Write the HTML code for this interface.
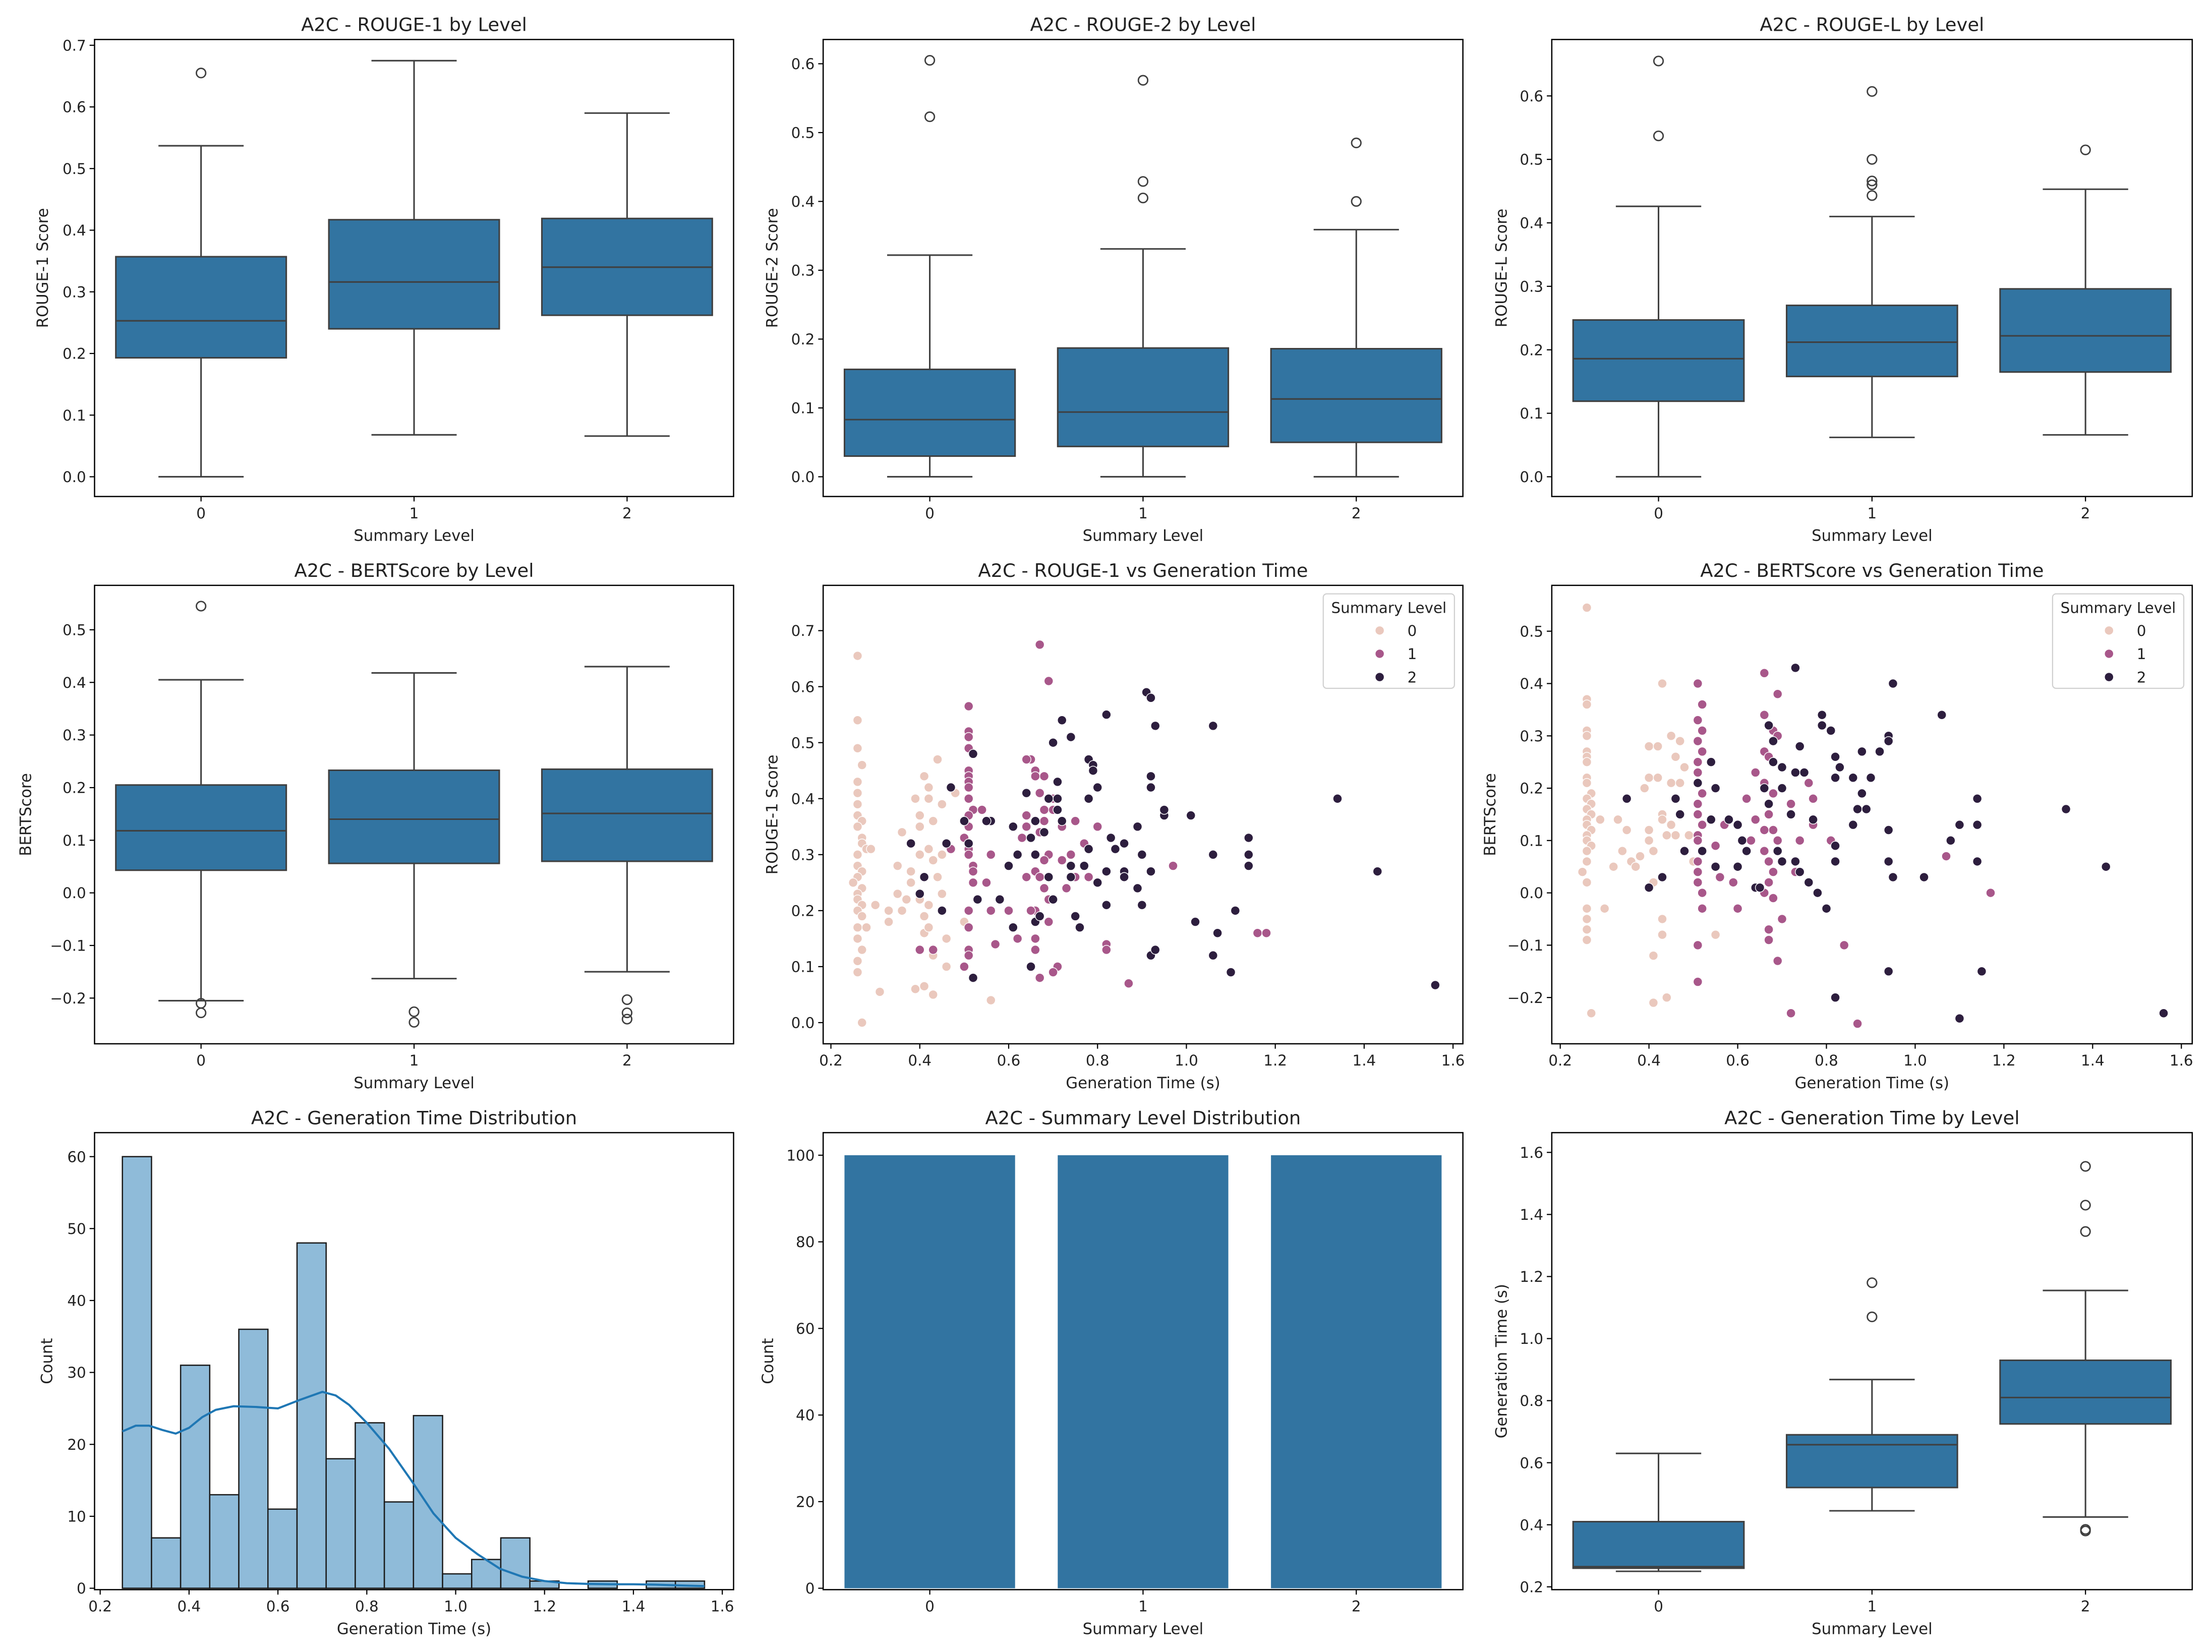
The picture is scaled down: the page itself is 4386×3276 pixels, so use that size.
<!DOCTYPE html>
<html>
<head>
<meta charset="utf-8">
<style>
html,body{margin:0;padding:0;background:#fff;}
svg{display:block;}
text{font-family:"DejaVu Sans","Liberation Sans",sans-serif;fill:#222;}
</style>
</head>
<body>
<svg id="fig" xmlns="http://www.w3.org/2000/svg" width="4386" height="3276" viewBox="0 0 1568 1171.2"></svg>
<script>
// ---------- DATA ----------
const levels = ["0","1","2"];
// box stats: [lowWhisker, q1, median, q3, highWhisker]
const rouge1Box = [[0,0.193,0.253,0.357,0.537],[0.068,0.24,0.316,0.417,0.675],[0.066,0.262,0.34,0.419,0.59]];
const rouge1Out = [[0.655],[],[]];
const rouge2Box = [[0,0.03,0.083,0.156,0.322],[0,0.044,0.094,0.187,0.331],[0,0.05,0.113,0.186,0.359]];
const rouge2Out = [[0.523,0.605],[0.405,0.429,0.576],[0.4,0.485]];
const rougeLBox = [[0,0.119,0.186,0.247,0.426],[0.062,0.158,0.212,0.27,0.41],[0.066,0.165,0.222,0.296,0.453]];
const rougeLOut = [[0.537,0.655],[0.443,0.46,0.466,0.5,0.607],[0.515]];
const bertBox = [[-0.205,0.043,0.118,0.205,0.405],[-0.163,0.056,0.14,0.233,0.418],[-0.15,0.06,0.151,0.235,0.43]];
const bertOut = [[0.545,-0.21,-0.228],[-0.226,-0.246],[-0.203,-0.228,-0.24]];
const timeBox = [[0.25,0.26,0.265,0.41,0.63],[0.445,0.52,0.658,0.69,0.868],[0.425,0.725,0.81,0.93,1.155]];
const timeOut = [[],[1.07,1.18],[0.38,0.385,1.345,1.43,1.555]];

const r1Level0 = [[0.26,0.655],[0.26,0.54],[0.26,0.49],[0.27,0.46],[0.26,0.43],[0.26,0.41],[0.26,0.39],[0.26,0.37],[0.27,0.36],[0.26,0.35],[0.27,0.33],[0.27,0.32],[0.28,0.31],[0.26,0.30],[0.26,0.28],[0.27,0.27],[0.26,0.26],[0.27,0.24],[0.26,0.23],[0.26,0.22],[0.27,0.21],[0.26,0.20],[0.27,0.19],[0.26,0.17],[0.26,0.15],[0.27,0.13],[0.26,0.11],[0.26,0.09],[0.27,0.00],[0.29,0.31],[0.25,0.25],[0.28,0.17],[0.30,0.21],[0.31,0.055],[0.33,0.20],[0.35,0.28],[0.35,0.23],[0.36,0.34],[0.37,0.22],[0.38,0.25],[0.38,0.27],[0.39,0.40],[0.40,0.37],[0.40,0.35],[0.40,0.30],[0.40,0.22],[0.41,0.44],[0.41,0.19],[0.41,0.16],[0.41,0.065],[0.42,0.42],[0.42,0.40],[0.42,0.31],[0.42,0.21],[0.42,0.17],[0.43,0.05],[0.44,0.47],[0.43,0.29],[0.43,0.36],[0.43,0.12],[0.44,0.26],[0.45,0.39],[0.45,0.30],[0.46,0.15],[0.46,0.10],[0.45,0.23],[0.48,0.41],[0.50,0.18],[0.56,0.04],[0.39,0.06],[0.36,0.20],[0.33,0.18]];
const r1Level1 = [[0.67,0.675],[0.69,0.61],[0.51,0.565],[0.51,0.52],[0.51,0.51],[0.51,0.49],[0.51,0.45],[0.51,0.44],[0.51,0.43],[0.51,0.42],[0.51,0.40],[0.52,0.38],[0.51,0.37],[0.51,0.35],[0.50,0.33],[0.51,0.31],[0.51,0.30],[0.52,0.28],[0.52,0.27],[0.52,0.25],[0.51,0.20],[0.51,0.17],[0.51,0.13],[0.51,0.12],[0.50,0.10],[0.54,0.38],[0.56,0.30],[0.56,0.20],[0.55,0.25],[0.47,0.31],[0.43,0.13],[0.40,0.13],[0.65,0.47],[0.66,0.45],[0.67,0.41],[0.64,0.47],[0.66,0.44],[0.68,0.38],[0.68,0.36],[0.67,0.34],[0.69,0.30],[0.68,0.29],[0.66,0.27],[0.67,0.26],[0.68,0.24],[0.69,0.22],[0.66,0.20],[0.69,0.18],[0.66,0.15],[0.66,0.13],[0.71,0.10],[0.70,0.09],[0.67,0.08],[0.64,0.37],[0.64,0.35],[0.63,0.33],[0.62,0.30],[0.64,0.26],[0.68,0.44],[0.70,0.40],[0.72,0.29],[0.74,0.26],[0.75,0.26],[0.78,0.26],[0.80,0.35],[0.82,0.14],[0.82,0.13],[0.87,0.07],[0.74,0.30],[0.72,0.35],[0.77,0.32],[1.16,0.16],[1.18,0.16],[0.97,0.28],[0.60,0.20],[0.57,0.14],[0.62,0.15],[0.65,0.20],[0.73,0.24],[0.75,0.36],[0.70,0.38]];
const r1Level2 = [[0.72,0.54],[0.74,0.51],[0.70,0.50],[0.78,0.47],[0.82,0.55],[0.91,0.59],[0.92,0.58],[0.93,0.53],[0.79,0.46],[0.79,0.45],[0.80,0.42],[0.78,0.40],[0.92,0.44],[0.92,0.42],[0.95,0.37],[0.95,0.38],[0.71,0.38],[0.71,0.40],[0.72,0.36],[0.66,0.36],[0.61,0.35],[0.56,0.36],[0.50,0.36],[0.52,0.48],[0.47,0.42],[0.46,0.32],[0.51,0.32],[0.53,0.22],[0.62,0.30],[0.60,0.28],[0.64,0.41],[0.68,0.34],[0.65,0.33],[0.66,0.30],[0.69,0.40],[0.71,0.43],[0.74,0.28],[0.77,0.28],[0.78,0.31],[0.83,0.33],[0.84,0.31],[0.86,0.32],[0.89,0.35],[0.86,0.27],[0.86,0.26],[0.89,0.24],[0.90,0.30],[0.92,0.27],[0.90,0.21],[0.70,0.22],[0.75,0.19],[0.58,0.22],[0.45,0.20],[0.40,0.23],[0.38,0.32],[0.41,0.26],[0.76,0.17],[0.66,0.18],[0.67,0.19],[0.92,0.12],[0.93,0.13],[1.02,0.18],[1.06,0.12],[1.10,0.09],[1.14,0.28],[1.14,0.30],[1.14,0.33],[1.06,0.30],[1.01,0.37],[1.11,0.20],[1.07,0.16],[0.80,0.25],[0.82,0.27],[0.74,0.26],[0.61,0.17],[0.69,0.26],[0.52,0.08],[0.65,0.10],[0.82,0.21],[0.55,0.36],[1.34,0.40],[1.43,0.27],[1.56,0.067],[1.06,0.53]];

const bsLevel0 = [[0.26,0.545],[0.26,0.37],[0.26,0.36],[0.26,0.31],[0.26,0.30],[0.26,0.27],[0.26,0.26],[0.26,0.25],[0.26,0.22],[0.26,0.21],[0.27,0.19],[0.26,0.18],[0.27,0.17],[0.26,0.16],[0.27,0.15],[0.26,0.14],[0.26,0.13],[0.27,0.12],[0.26,0.11],[0.26,0.10],[0.27,0.09],[0.26,0.08],[0.26,0.06],[0.25,0.04],[0.26,0.02],[0.26,-0.03],[0.26,-0.05],[0.26,-0.07],[0.26,-0.09],[0.27,-0.23],[0.29,0.14],[0.30,-0.03],[0.32,0.05],[0.35,0.12],[0.36,0.06],[0.37,0.05],[0.39,0.20],[0.40,0.22],[0.40,0.28],[0.40,0.10],[0.40,0.12],[0.41,0.08],[0.41,0.02],[0.41,-0.12],[0.41,-0.21],[0.42,0.28],[0.42,0.22],[0.43,0.40],[0.43,0.15],[0.43,0.14],[0.43,-0.05],[0.43,-0.08],[0.44,-0.20],[0.45,0.30],[0.45,0.21],[0.45,0.13],[0.46,0.26],[0.46,0.11],[0.47,0.29],[0.47,0.21],[0.48,0.24],[0.49,0.11],[0.50,0.06],[0.55,-0.08],[0.38,0.07],[0.44,0.11],[0.34,0.08],[0.33,0.14]];
const bsLevel1 = [[0.51,0.40],[0.52,0.36],[0.51,0.33],[0.52,0.31],[0.51,0.29],[0.52,0.27],[0.51,0.25],[0.51,0.23],[0.51,0.21],[0.52,0.19],[0.51,0.17],[0.51,0.15],[0.52,0.13],[0.51,0.11],[0.51,0.10],[0.52,0.08],[0.51,0.06],[0.51,0.04],[0.51,0.02],[0.52,0.00],[0.52,-0.03],[0.51,-0.10],[0.51,-0.17],[0.66,0.42],[0.69,0.38],[0.66,0.34],[0.67,0.32],[0.68,0.31],[0.69,0.30],[0.66,0.27],[0.67,0.26],[0.68,0.25],[0.64,0.23],[0.66,0.21],[0.68,0.19],[0.67,0.15],[0.68,0.12],[0.69,0.10],[0.66,0.08],[0.67,0.06],[0.68,0.04],[0.67,0.02],[0.66,0.00],[0.68,-0.01],[0.70,-0.05],[0.67,-0.07],[0.67,-0.09],[0.69,-0.13],[0.62,0.18],[0.63,0.10],[0.60,0.05],[0.59,0.02],[0.56,0.03],[0.57,0.13],[0.55,0.09],[0.64,0.14],[0.66,0.12],[0.72,0.17],[0.76,0.21],[0.77,0.18],[0.77,0.13],[0.81,0.10],[0.84,-0.10],[0.72,-0.23],[0.87,-0.25],[0.73,0.04],[1.07,0.07],[1.17,0.00],[0.60,-0.03],[0.74,0.10]];
const bsLevel2 = [[0.73,0.43],[0.95,0.40],[0.79,0.34],[1.06,0.34],[0.79,0.32],[0.81,0.31],[0.67,0.32],[0.68,0.29],[0.74,0.28],[0.82,0.26],[0.88,0.27],[0.92,0.27],[0.94,0.30],[0.94,0.29],[0.83,0.24],[0.82,0.22],[0.68,0.25],[0.70,0.24],[0.73,0.23],[0.75,0.23],[0.66,0.20],[0.70,0.20],[0.54,0.25],[0.55,0.20],[0.54,0.14],[0.46,0.18],[0.47,0.15],[0.51,0.21],[0.58,0.14],[0.60,0.13],[0.61,0.10],[0.48,0.08],[0.52,0.08],[0.60,0.05],[0.64,0.01],[0.65,0.01],[0.73,0.06],[0.74,0.04],[0.76,0.02],[0.78,0.00],[0.80,-0.03],[0.82,0.09],[0.86,0.13],[0.87,0.16],[0.89,0.16],[0.94,0.12],[0.94,0.06],[0.95,0.03],[1.02,0.03],[1.08,0.10],[1.10,0.13],[1.14,0.18],[1.14,0.13],[1.14,0.06],[1.34,0.16],[1.43,0.05],[1.56,-0.23],[0.40,0.01],[0.43,0.03],[0.35,0.18],[0.82,-0.20],[1.10,-0.24],[0.94,-0.15],[1.15,-0.15],[0.67,0.17],[0.86,0.22],[0.88,0.19],[0.72,0.15],[0.69,0.08],[0.70,0.06],[0.77,0.14],[0.90,0.22],[0.55,0.05],[0.62,0.08],[0.82,0.06]];

const histStart = 0.25;
const histBinWidth = 0.0655;
const histCounts = [60,7,31,13,36,11,48,18,23,12,24,2,4,7,1,0,1,0,1,1];
const kdeX = [0.25,0.28,0.31,0.34,0.37,0.40,0.43,0.46,0.50,0.55,0.60,0.65,0.70,0.73,0.76,0.80,0.85,0.90,0.95,1.00,1.05,1.10,1.15,1.20,1.25,1.30,1.35,1.40,1.45,1.50,1.56];
const kdeY = [21.8,22.6,22.6,22.0,21.5,22.3,23.8,24.8,25.3,25.2,25.0,26.2,27.3,26.8,25.5,23,19.4,15,10.4,7,4.7,2.7,1.6,1.0,0.7,0.6,0.55,0.55,0.5,0.4,0.3];
const levelCounts = [100,100,100];

const ticks07 = [0,0.1,0.2,0.3,0.4,0.5,0.6,0.7];
const ticks06 = [0,0.1,0.2,0.3,0.4,0.5,0.6];
const ticksBert = [-0.2,-0.1,0,0.1,0.2,0.3,0.4,0.5];
const ticksTime = [0.2,0.4,0.6,0.8,1.0,1.2,1.4,1.6];
const ticksHist = [0,10,20,30,40,50,60];
const ticksBar = [0,20,40,60,80,100];

// ---------- DRAWING ----------
const NS = "http://www.w3.org/2000/svg";
const fig = document.getElementById("fig");
const LINE = "#3f3f3f";
const BOX = "#3274a1";
const HUE = ["#eac8bd","#a8578a","#2d1e3e"];
function mk(tag, attrs, parent){
  const e = document.createElementNS(NS, tag);
  for (const k in attrs) e.setAttribute(k, attrs[k]);
  (parent||fig).appendChild(e);
  return e;
}
function fmt(v, d){ return v.toFixed(d); }

function axes(p){
  // p: {name,l,r,t,b,title,xlabel,ylabel,ylabX,yfn,yticks,ydec,xfn,xticks,xlabels}
  const g = mk("g", {});
  
  
  const title = mk("text", {x:(p.l+p.r)/2, y:p.t-6, "font-size":13.2, "text-anchor":"middle"}, g);
  title.textContent = p.title;
  
  
  const xl = mk("text", {x:(p.l+p.r)/2, y:p.b+31.5, "font-size":11, "text-anchor":"middle"}, g);
  xl.textContent = p.xlabel;
  
  
  const cy = (p.t+p.b)/2;
  const yl = mk("text", {x:p.ylabX, y:cy, "font-size":11, "text-anchor":"middle", transform:"rotate(-90 "+p.ylabX+" "+cy+")"}, g);
  yl.textContent = p.ylabel;
  
  
  p.yticks.forEach(v=>{
    const y = p.yfn(v);
    const tk = mk("line", {x1:p.l-3.5, x2:p.l, y1:y, y2:y, stroke:"#000", "stroke-width":0.8}, g);
    
    
    const t = mk("text", {x:p.l-6, y:y+3.8, "font-size":10.5, "text-anchor":"end"}, g);
    t.textContent = fmt(v, p.ydec).replace("-","\u2212");
    
    
  });
  p.xticks.forEach((v,i)=>{
    const x = p.xfn(v);
    const tk = mk("line", {x1:x, x2:x, y1:p.b, y2:p.b+3.5, stroke:"#000", "stroke-width":0.8}, g);
    
    
    const t = mk("text", {x:x, y:p.b+15.5, "font-size":10.5, "text-anchor":"middle"}, g);
    t.textContent = p.xlabels[i];
    
    
  });
  return g;
}
function frame(p){
  const r = mk("rect", {x:p.l, y:p.t, width:p.r-p.l, height:p.b-p.t, fill:"none", stroke:"#000", "stroke-width":0.9});
  
  
}
function catX(l, r){ return c => l + (c+0.5)*(r-l)/3; }

function boxPanel(p, stats, outs){
  const xfn = catX(p.l, p.r);
  p.xfn = xfn; p.xticks = [0,1,2]; p.xlabels = levels;
  const g = axes(p);
  const bw = 0.8*(p.r-p.l)/3;
  stats.forEach((s,i)=>{
    const cx = xfn(i), yf = p.yfn;
    const bg = mk("g", {}, g);
    
    
    mk("line", {x1:cx, x2:cx, y1:yf(s[0]), y2:yf(s[1]), stroke:LINE, "stroke-width":1.1}, bg);
    mk("line", {x1:cx, x2:cx, y1:yf(s[3]), y2:yf(s[4]), stroke:LINE, "stroke-width":1.1}, bg);
    mk("line", {x1:cx-bw/4, x2:cx+bw/4, y1:yf(s[0]), y2:yf(s[0]), stroke:LINE, "stroke-width":1.1}, bg);
    mk("line", {x1:cx-bw/4, x2:cx+bw/4, y1:yf(s[4]), y2:yf(s[4]), stroke:LINE, "stroke-width":1.1}, bg);
    mk("rect", {x:cx-bw/2, y:yf(s[3]), width:bw, height:yf(s[1])-yf(s[3]), fill:BOX, stroke:LINE, "stroke-width":1.1}, bg);
    mk("line", {x1:cx-bw/2, x2:cx+bw/2, y1:yf(s[2]), y2:yf(s[2]), stroke:LINE, "stroke-width":1.1}, bg);
    outs[i].forEach(o=>{
      const c = mk("circle", {cx:cx, cy:yf(o), r:3.3, fill:"none", stroke:LINE, "stroke-width":1}, bg);
      
      
    });
  });
  frame(p);
}

function scatterPanel(p, series){
  p.xfn = t => p.x0 + (t-0.2)*p.kx;
  p.xticks = ticksTime; p.xlabels = ticksTime.map(v=>v.toFixed(1));
  const g = axes(p);
  series.forEach((pts,li)=>{
    const sg = mk("g", {}, g);
    
    
    pts.forEach(d=>{
      const c = mk("circle", {cx:p.xfn(d[0]), cy:p.yfn(d[1]), r:3.2, fill:HUE[li], stroke:"#fff", "stroke-width":0.5}, sg);
      
      
    });
  });
  // legend
  const lg = mk("g", {}, g);
  
  
  const lx = p.r - 99;
  mk("rect", {x:lx, y:p.t+6, width:93, height:67, rx:2.5, fill:"#fff", "fill-opacity":0.8, stroke:"#d0d0d0", "stroke-width":0.8}, lg);
  const lt = mk("text", {x:lx+46.5, y:p.t+19.5, "font-size":10.5, "text-anchor":"middle"}, lg);
  lt.textContent = "Summary Level";
  levels.forEach((lv,i)=>{
    const y = p.t + 32 + i*16.5;
    const e = mk("g", {}, lg);
    
    
    mk("circle", {cx:lx+40, cy:y, r:3.2, fill:HUE[i], stroke:"#fff", "stroke-width":0.5}, e);
    const t = mk("text", {x:lx+63, y:y+3.8, "font-size":10.5, "text-anchor":"middle"}, e);
    t.textContent = lv;
  });
  frame(p);
}

// Row 1
const R1T = 28, R1B = 352, R2T = 415, R2B = 740, R3T = 803, R3B = 1127;
const C1L = 67, C1R = 520, C2L = 583.5, C2R = 1037, C3L = 1100, C3R = 1554;

boxPanel({name:"rouge1-by-level", l:C1L, r:C1R, t:R1T, b:R1B, title:"A2C - ROUGE-1 by Level", xlabel:"Summary Level", ylabel:"ROUGE-1 Score", ylabX:34, yfn:v=>338-v*437, yticks:ticks07, ydec:1}, rouge1Box, rouge1Out);
boxPanel({name:"rouge2-by-level", l:C2L, r:C2R, t:R1T, b:R1B, title:"A2C - ROUGE-2 by Level", xlabel:"Summary Level", ylabel:"ROUGE-2 Score", ylabX:551, yfn:v=>338-v*488, yticks:ticks06, ydec:1}, rouge2Box, rouge2Out);
boxPanel({name:"rougeL-by-level", l:C3L, r:C3R, t:R1T, b:R1B, title:"A2C - ROUGE-L by Level", xlabel:"Summary Level", ylabel:"ROUGE-L Score", ylabX:1068, yfn:v=>338-v*450, yticks:ticks06, ydec:1}, rougeLBox, rougeLOut);

// Row 2
boxPanel({name:"bertscore-by-level", l:C1L, r:C1R, t:R2T, b:R2B, title:"A2C - BERTScore by Level", xlabel:"Summary Level", ylabel:"BERTScore", ylabX:22, yfn:v=>633-v*373, yticks:ticksBert, ydec:1}, bertBox, bertOut);
scatterPanel({name:"rouge1-vs-time", l:C2L, r:C2R, t:R2T, b:R2B, title:"A2C - ROUGE-1 vs Generation Time", xlabel:"Generation Time (s)", ylabel:"ROUGE-1 Score", ylabX:551, x0:589, kx:315, yfn:v=>725-v*397, yticks:ticks07, ydec:1}, [r1Level0, r1Level1, r1Level2]);
scatterPanel({name:"bertscore-vs-time", l:C3L, r:C3R, t:R2T, b:R2B, title:"A2C - BERTScore vs Generation Time", xlabel:"Generation Time (s)", ylabel:"BERTScore", ylabX:1060, x0:1106, kx:314.5, yfn:v=>633-v*371, yticks:ticksBert, ydec:1}, [bsLevel0, bsLevel1, bsLevel2]);

// Row 3: histogram
(function(){
  const p = {name:"generation-time-histogram", l:C1L, r:C1R, t:R3T, b:R3B, title:"A2C - Generation Time Distribution", xlabel:"Generation Time (s)", ylabel:"Count", ylabX:37, yfn:v=>1126-v*5.1, yticks:ticksHist, ydec:0};
  p.xfn = t => 71 + (t-0.2)*315;
  p.xticks = ticksTime; p.xlabels = ticksTime.map(v=>v.toFixed(1));
  const g = axes(p);
  histCounts.forEach((c,i)=>{
    const x0 = p.xfn(histStart + i*histBinWidth), x1 = p.xfn(histStart + (i+1)*histBinWidth);
    const r = mk("rect", {x:x0, y:p.yfn(c), width:x1-x0, height:p.yfn(0)-p.yfn(c), fill:"#8fbbd9", stroke:"#1a1a1a", "stroke-width":0.9}, g);
    
    
  });
  const d = kdeX.map((x,i)=>(i?"L":"M")+p.xfn(x).toFixed(2)+" "+p.yfn(kdeY[i]).toFixed(2)).join(" ");
  const k = mk("path", {d:d, fill:"none", stroke:"#1f77b4", "stroke-width":1.5, "stroke-linejoin":"round"}, g);
  
  
  frame(p);
})();

// Row 3: bar
(function(){
  const p = {name:"summary-level-distribution", l:C2L, r:C2R, t:R3T, b:R3B, title:"A2C - Summary Level Distribution", xlabel:"Summary Level", ylabel:"Count", ylabX:548, yfn:v=>1126-v*3.07, yticks:ticksBar, ydec:0};
  const xfn = catX(p.l, p.r);
  p.xfn = xfn; p.xticks = [0,1,2]; p.xlabels = levels;
  const g = axes(p);
  const bw = 0.8*(p.r-p.l)/3;
  levelCounts.forEach((c,i)=>{
    const r = mk("rect", {x:xfn(i)-bw/2, y:p.yfn(c), width:bw, height:p.yfn(0)-p.yfn(c), fill:BOX}, g);
    
    
  });
  frame(p);
})();

boxPanel({name:"generation-time-by-level", l:C3L, r:C3R, t:R3T, b:R3B, title:"A2C - Generation Time by Level", xlabel:"Summary Level", ylabel:"Generation Time (s)", ylabX:1068, yfn:v=>1125-(v-0.2)*220, yticks:ticksTime, ydec:1}, timeBox, timeOut);
</script>
</body>
</html>
